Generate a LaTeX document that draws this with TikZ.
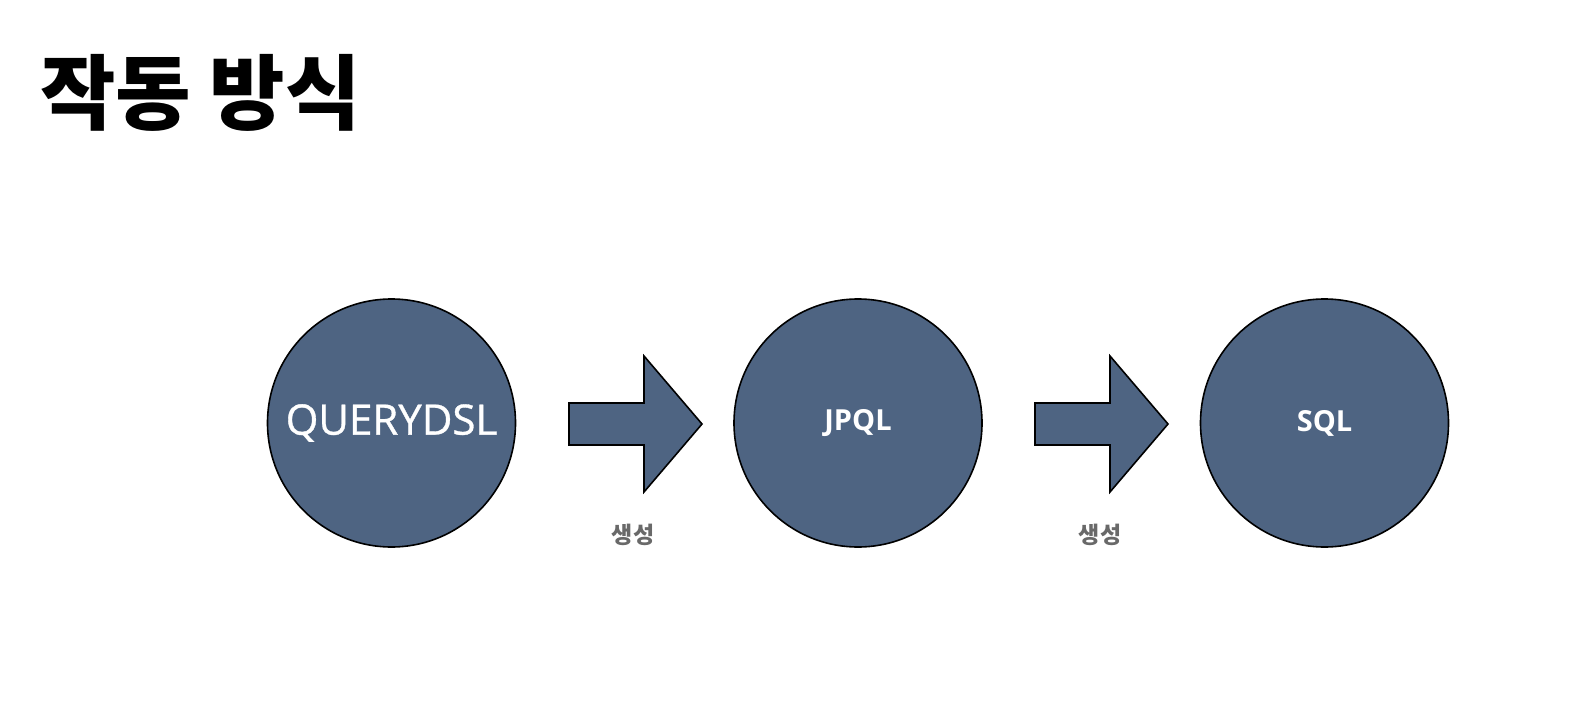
\documentclass[tikz,border=0pt]{standalone}
\usepackage{fontspec}
\usepackage{tikz}
\newfontfamily\kofont{Noto Sans CJK KR}
\newfontfamily\lafont{Open Sans}
\newfontfamily\lamedfont{Open Sans}[FakeBold=0.8]
\definecolor{slate}{RGB}{78,100,130}
\definecolor{labelgray}{RGB}{105,105,105}

\begin{document}
\begin{tikzpicture}[x=0.5pt,y=-0.5pt]
        \tikzstyle{every node}=[inner sep=0pt, outer sep=0pt];
        \tikzstyle{ball}=[draw=black, line width=0.8pt, fill=slate, shape=circle, minimum size=124pt, text=white];
        \tikzstyle{blockarrow}=[draw=black, line width=0.8pt, fill=slate, line join=miter];
        \tikzstyle{makes}=[text=labelgray, font=\kofont\bfseries\fontsize{11.5}{13}\selectfont];
        \useasboundingbox (0,0) rectangle (1574,701);
        % title
        \node[anchor=north west, font=\kofont\bfseries\fontsize{41}{48}\selectfont] (title) at (40,54) {작동 방식};
        % the three stages
        \node[ball, font=\lamedfont\fontsize{21}{25}\selectfont] (querydsl) at (391.5,423) {QUERYDSL};
        \node[ball, font=\lafont\bfseries\fontsize{14.5}{17}\selectfont] (jpql) at (858,423) {JPQL};
        \node[ball, font=\lafont\bfseries\fontsize{14.5}{17}\selectfont] (sql) at (1324.5,423) {SQL};
        % block arrows between them
        \foreach \dx in {0,466}{
            \draw[blockarrow] (569+\dx,403) -- (644+\dx,403) -- (644+\dx,356) -- (702+\dx,424)
                -- (644+\dx,492) -- (644+\dx,445) -- (569+\dx,445) -- cycle;
        }
        \node[makes] (makesA) at (633,535) {생성};
        \node[makes] (makesB) at (1100,535) {생성};
    \end{tikzpicture}
\end{document}
